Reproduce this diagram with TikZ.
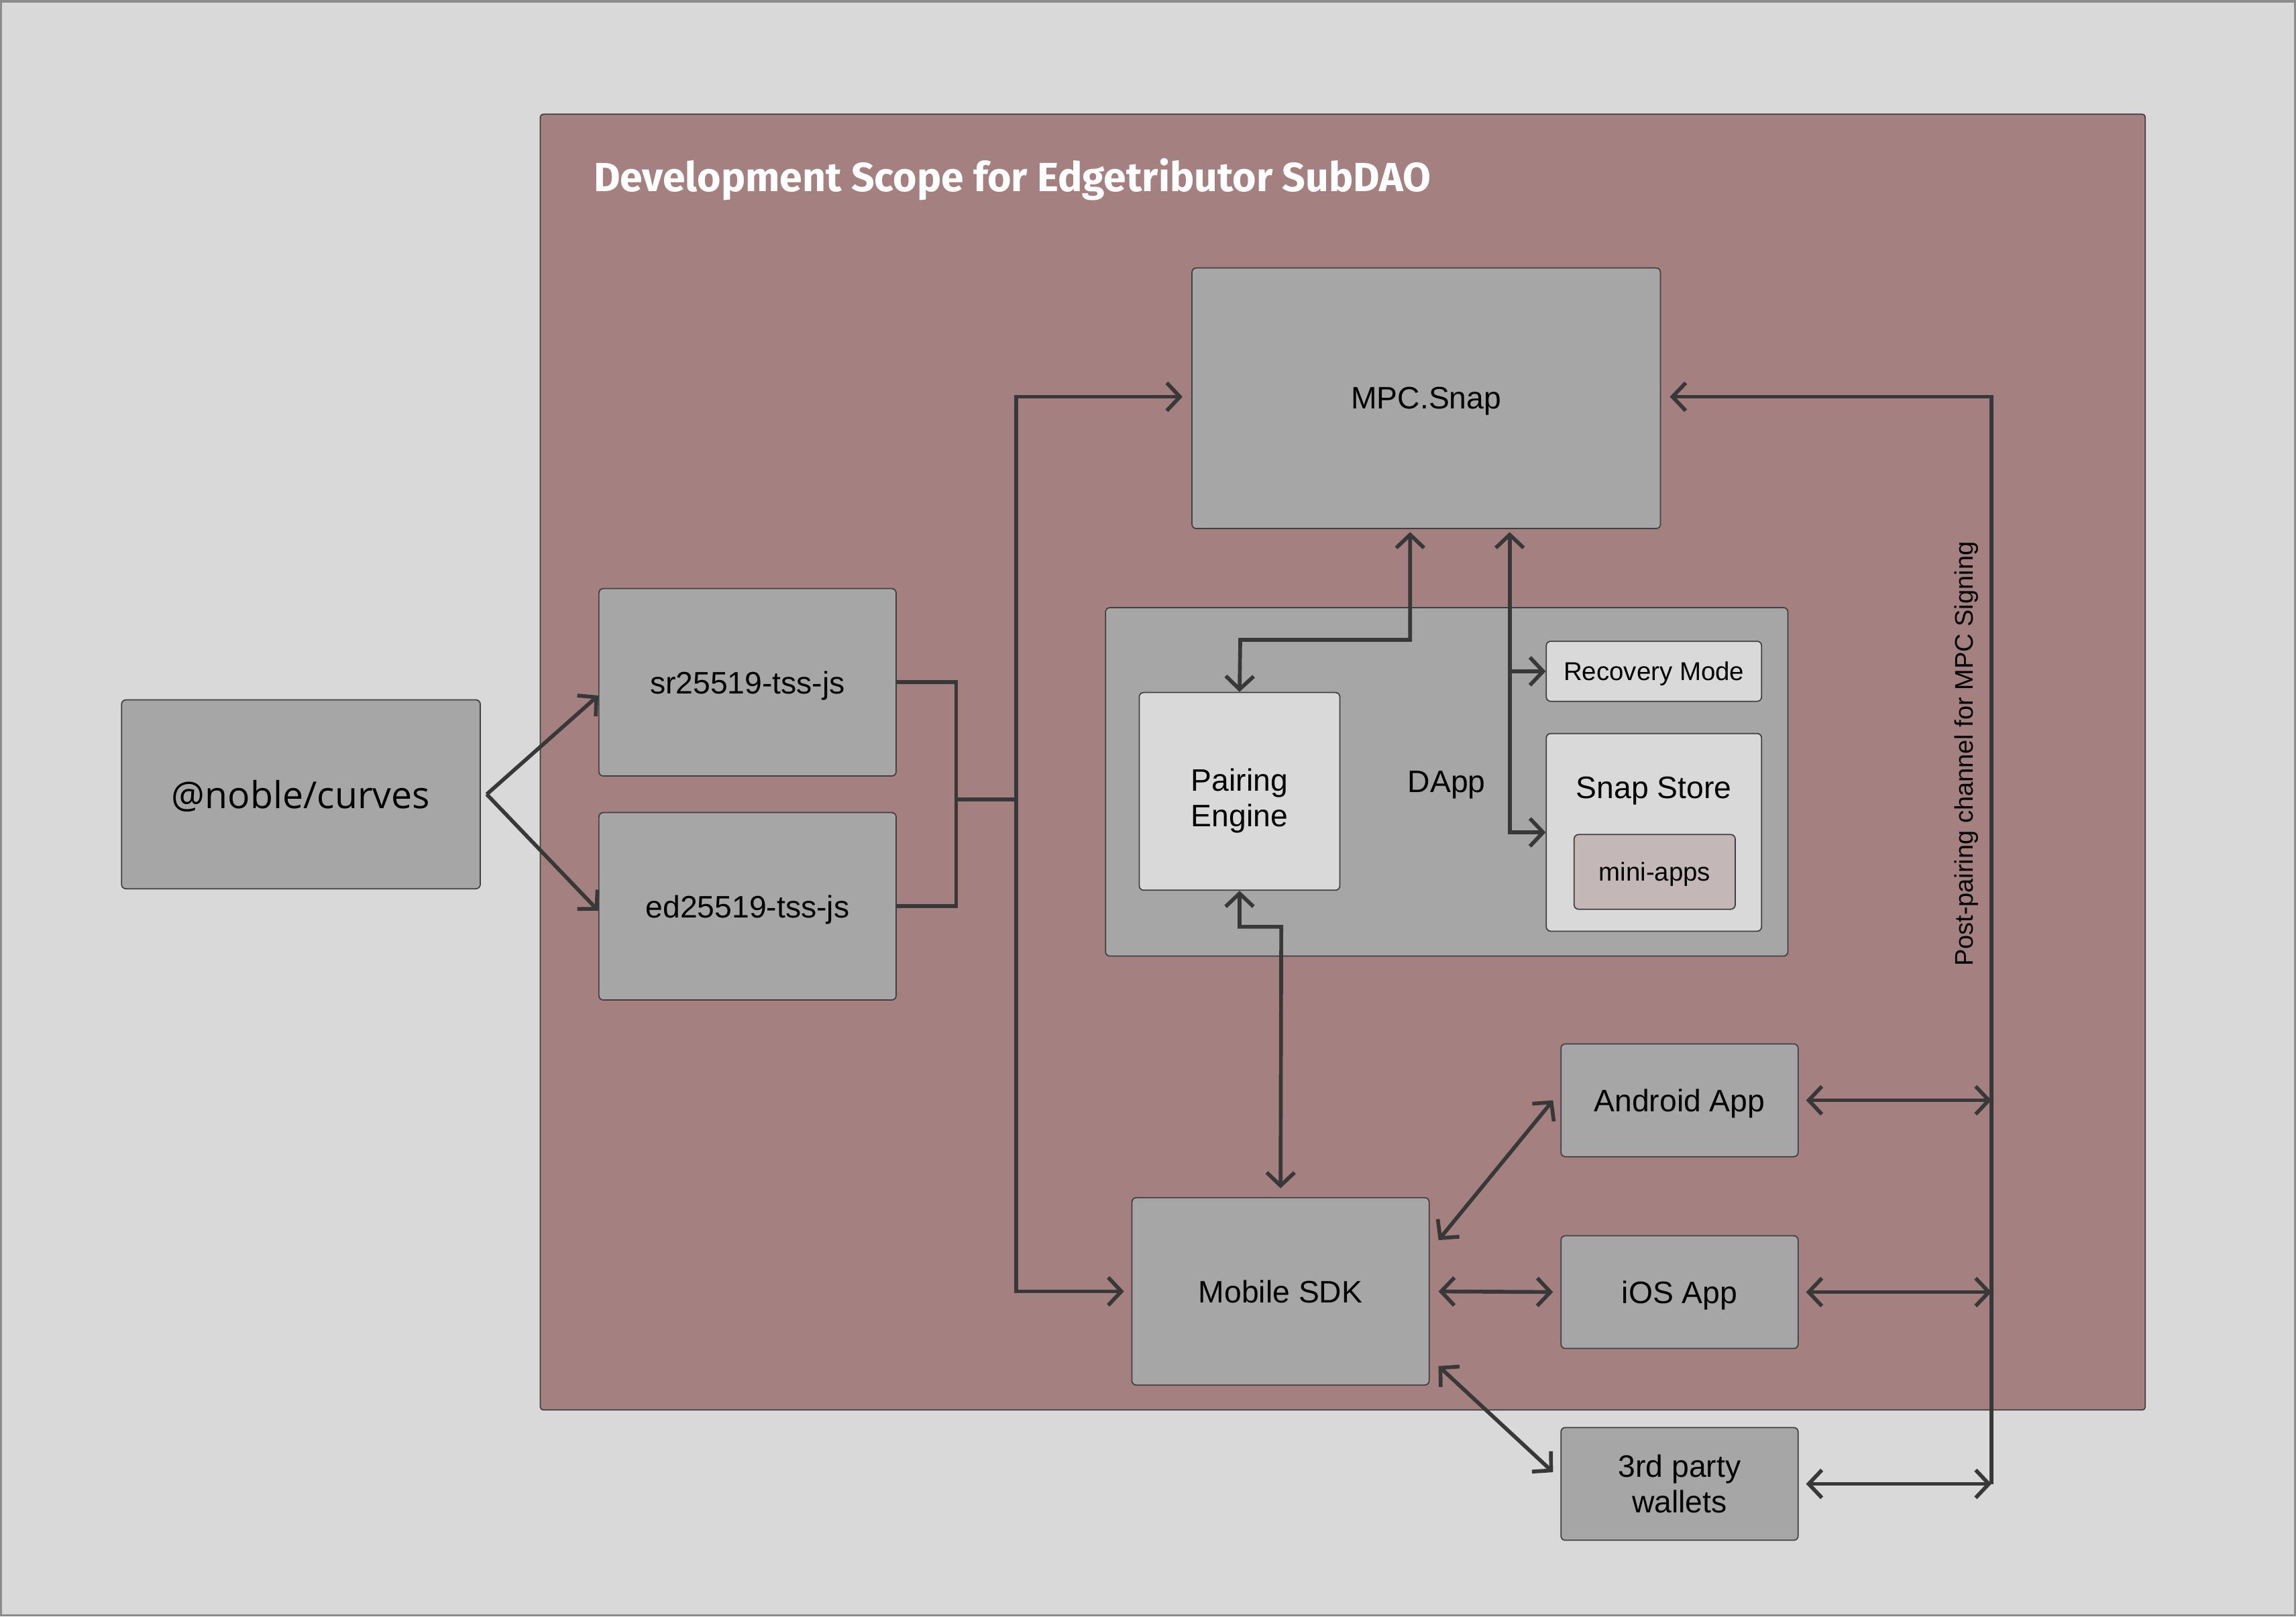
\documentclass[tikz,border=0pt]{standalone}
\usepackage{fontspec}
\setmainfont{Liberation Sans}
\newfontfamily\titlefont{Fira Sans}
\newfontfamily\noblefont{Open Sans}
\usetikzlibrary{arrows.meta}
\definecolor{bgc}{HTML}{D9D9D9}
\definecolor{scopec}{HTML}{A58080}
\definecolor{boxc}{HTML}{A6A6A6}
\definecolor{lightc}{HTML}{D9D9D9}
\definecolor{minic}{HTML}{C3B7B7}
\definecolor{linec}{HTML}{383838}
\definecolor{edgec}{HTML}{404040}
\begin{document}
\begin{tikzpicture}[x=0.5pt,y=-0.5pt,
  box/.style={draw=edgec, line width=0.4pt, rounded corners=1.5pt, fill=boxc, inner sep=0pt, align=center, text=black, font=\fontsize{10.6}{12}\selectfont, text depth=0pt},
  lbox/.style={box, fill=lightc},
  conn/.style={draw=linec, line width=1.3pt},
  tip/.style={-{Straight Barb[length=4.5pt,width=9.5pt]}},
  tips/.style={{Straight Barb[length=4.5pt,width=9.5pt]}-{Straight Barb[length=4.5pt,width=9.5pt]}},
]
\useasboundingbox (0,0) rectangle (1568,1104);
\fill[bgc] (0,0) rectangle (1568,1104);
\draw[draw=black!45, line width=0.8pt] (0.8,0.8) rectangle (1567.2,1103.2);

% scope container
\node[draw=edgec, line width=0.4pt, rounded corners=1pt, fill=scopec, minimum width=548pt, minimum height=442.5pt, inner sep=0pt] (scope) at (917,520.5) {};
\node[anchor=base west, inner sep=0pt, text=white] (title) at (405,131)
  {\resizebox{286pt}{!}{\titlefont\bfseries Development Scope for Edgetributor SubDAO}};

% nodes
\node[box, minimum width=122.5pt, minimum height=64.5pt, font=\noblefont\fontsize{12.7}{15}\selectfont] (noble) at (205.5,542.5) {@noble/curves};
\node[box, minimum width=101.5pt, minimum height=64pt] (sr) at (510.5,466) {sr25519-tss-js};
\node[box, minimum width=101.5pt, minimum height=64pt] (ed) at (510.5,619) {ed25519-tss-js};
\node[box, minimum width=160pt, minimum height=89pt] (mpc) at (974,272) {MPC.Snap};
\node[box, minimum width=233pt, minimum height=119pt] (dapp) at (988,534) {DApp};
\node[lbox, minimum width=68.5pt, minimum height=67.5pt] (pairing) at (846.5,540.5) {};
\node[inner sep=0pt, align=center, font=\fontsize{10.6}{12}\selectfont] (pairlabel) at (846.5,547) {Pairing\\Engine};
\node[lbox, minimum width=73.5pt, minimum height=20.5pt, font=\fontsize{8.8}{10}\selectfont] (recovery) at (1129.5,458.5) {Recovery Mode};
\node[lbox, minimum width=73.5pt, minimum height=67.5pt] (snapstore) at (1129.5,568.5) {};
\node[inner sep=0pt, font=\fontsize{10.6}{12}\selectfont] (snaplabel) at (1129.5,540) {Snap Store};
\node[box, fill=minic, minimum width=55pt, minimum height=25.5pt, font=\fontsize{8.8}{10}\selectfont] (mini) at (1130,595.5) {mini-apps};
\node[box, minimum width=101.5pt, minimum height=64pt] (sdk) at (874.5,882) {Mobile SDK};
\node[box, minimum width=81pt, minimum height=38.5pt] (android) at (1147,751.5) {Android App};
\node[box, minimum width=81pt, minimum height=38.5pt] (ios) at (1147,882.5) {iOS App};
\node[box, minimum width=81pt, minimum height=38.5pt, text depth=] (wallets) at (1147,1013.5) {3rd party\\wallets};
\node[rotate=90, inner sep=0pt, font=\fontsize{8.7}{10}\selectfont] (ppc) at (1343,515) {Post-pairing channel for MPC Signing};

% coordinates
\coordinate (j1) at (653,546);
\coordinate (j2) at (694,546);
\coordinate (pe1) at (847,437);
\coordinate (pe2) at (875,633);
\coordinate (br) at ([xshift=28.5pt]mpc.south);
\coordinate (rc) at (1360,271);

% connectors
\draw[conn, tip] ([xshift=2pt]noble.east) -- ([yshift=-4.5pt]sr.west);
\draw[conn, tip] ([xshift=2pt]noble.east) -- ([yshift=-1.5pt]ed.west);
\draw[conn] (sr.east) -| (j1);
\draw[conn] (ed.east) -| (j1);
\draw[conn] (j1) -- (j2);
\draw[conn, tip, shorten >=3pt] (j2) |- ([yshift=0.5pt]mpc.west);
\draw[conn, tip, shorten >=2.5pt] (j2) |- (sdk.west);

\draw[conn, tips, shorten <=1pt] ([xshift=-5.5pt]mpc.south) |- (pe1) -- (pairing.north);
\draw[conn, tips, shorten <=1pt] (br) |- (snapstore.west);
\draw[conn, tip] (br |- recovery.west) -- (recovery.west);
\draw[conn, tips, shorten >=3pt] (pairing.south) |- (pe2) -- (sdk.north);

\draw[conn, tips] ([shift={(3pt,17.5pt)}]sdk.east) -- ([xshift=-2.5pt]android.west);
\draw[conn, tips, shorten <=3pt, shorten >=2.5pt] (sdk.east) -- (ios.west);
\draw[conn, tips] ([shift={(3pt,-25.5pt)}]sdk.east) -- ([shift={(-2.5pt,4pt)}]wallets.west);

\draw[conn, tip, shorten >=3pt] (rc |- wallets.east) -- (rc) -- ([yshift=0.5pt]mpc.east);
\draw[conn, tips, shorten <=2.5pt] (android.east) -- (rc |- android.east);
\draw[conn, tips, shorten <=2.5pt] (ios.east) -- (rc |- ios.east);
\draw[conn, tips, shorten <=2.5pt] (wallets.east) -- (rc |- wallets.east);
\end{tikzpicture}
\end{document}
